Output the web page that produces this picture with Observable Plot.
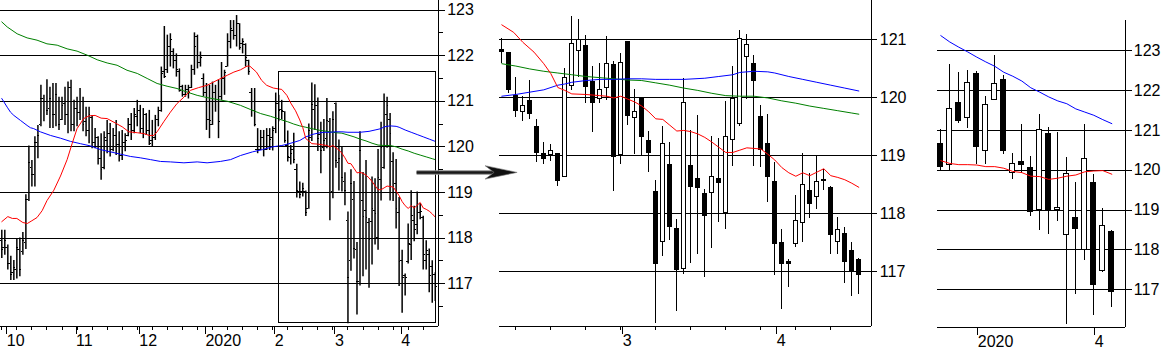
<!DOCTYPE html>
<html>
<head>
<meta charset="utf-8">
<script src="https://cdn.jsdelivr.net/npm/d3@7"></script>
<script src="https://cdn.jsdelivr.net/npm/@observablehq/plot@0.6"></script>
<style>
  html, body { margin: 0; padding: 0; background: #fff; }
  #chart { position: relative; width: 1176px; height: 362px; overflow: hidden; background: #fff; }
  #chart svg { position: absolute; left: 0; top: 0; }
</style>
</head>
<body>
<div id="chart"></div>
<script>
// ---------- daily OHLC, index 0 = 2019-09-30, one entry per weekday up to 2020-04-17 ----------
const dailyOpen = [
117.95,117.80,117.80,117.45,117.25,117.30,117.75,117.70,117.90,118.85,
119.55,119.40,120.10,120.50,121.05,121.00,120.85,121.00,120.70,121.00,
120.60,120.95,120.70,121.30,120.50,120.85,120.75,121.00,120.55,120.35,
120.65,120.10,120.20,119.75,119.55,120.15,120.30,119.95,120.25,120.05,
119.80,120.10,120.25,120.50,120.35,120.67,120.80,120.40,120.70,120.35,
120.14,120.20,120.60,120.80,121.65,121.69,122.20,122.10,121.90,121.65,
121.32,121.15,121.25,121.30,121.70,122.41,121.85,121.50,121.20,120.60,
120.48,121.20,121.00,121.10,121.50,121.77,122.30,122.55,122.45,122.70,
122.26,122.25,121.90,121.20,120.80,119.94,119.95,120.20,119.95,120.25,
120.20,120.40,120.95,
120.82,120.77,120.04,119.76,119.94,119.50,119.03,119.02,119.03,118.64,
120.20,120.81,120.90,120.27,119.98,120.18,120.56,119.01,120.96,119.66,
120.00,119.25,118.38,117.51,118.85,117.74,117.05,118.83,118.60,118.34,
118.37,118.61,118.01,119.28,119.55,120.70,120.59,119.68,119.20,118.55,
117.50,117.17,117.48,117.85,118.39,118.30,118.57,118.44,117.51,117.65,
117.37,117.21];
const dailyHigh = [
118.17,118.17,117.85,117.60,117.51,117.97,118.00,118.12,118.95,120.02,
119.70,120.22,120.47,121.35,121.13,121.47,121.31,121.39,121.39,121.09,
121.09,121.31,121.42,121.46,121.02,121.09,121.28,121.09,120.87,120.87,
120.69,120.40,120.22,120.29,120.33,120.58,120.51,120.40,120.58,120.33,
120.36,120.29,120.62,120.73,120.84,121.02,120.91,120.84,120.73,120.80,
120.58,120.69,120.87,121.75,122.64,122.45,122.48,122.15,122.04,121.71,
121.35,121.35,121.35,121.79,122.50,122.45,122.08,121.60,121.39,121.35,
121.42,121.35,121.46,121.85,121.68,122.48,122.77,122.77,122.88,122.70,
122.37,122.26,121.90,121.28,121.28,120.40,120.36,120.36,120.40,120.40,
120.44,121.18,121.13,
121.02,120.77,120.35,120.03,120.30,119.62,119.23,119.20,119.03,120.50,
121.40,121.36,121.07,120.54,120.60,121.06,120.62,120.77,120.96,120.15,
120.00,119.43,118.57,119.50,119.24,117.90,120.33,119.44,119.70,118.43,
119.34,119.30,119.94,120.54,121.16,121.09,120.73,119.87,119.72,118.89,
117.73,117.21,118.31,119.04,118.70,119.01,118.76,118.48,117.94,117.76,
117.50,117.24];
const dailyLow = [
117.55,117.62,117.30,117.07,117.07,117.10,117.15,117.62,117.75,118.80,
119.12,119.12,119.74,120.44,120.55,120.69,120.40,120.40,120.44,120.36,
120.58,120.47,120.29,120.33,120.33,120.44,120.58,120.33,120.22,120.07,
119.96,119.96,119.60,119.27,119.50,119.85,119.78,119.89,119.81,119.67,
119.70,119.89,120.22,120.14,120.29,120.44,120.29,120.18,120.25,120.03,
120.00,120.14,120.44,120.76,121.50,121.61,121.75,121.71,121.53,121.20,
121.09,121.09,121.05,121.28,121.57,121.71,121.75,121.10,120.36,120.18,
120.47,120.76,120.18,121.02,121.13,121.75,122.15,122.34,122.19,122.12,
122.04,121.75,121.57,120.65,120.44,119.85,119.92,119.78,119.92,119.92,
119.91,120.29,120.55,
120.59,120.08,119.67,119.60,119.63,118.88,118.86,118.90,118.47,118.63,
120.12,120.36,119.90,119.41,119.90,119.96,118.38,118.86,119.53,119.03,
119.01,118.71,116.12,117.27,117.54,116.31,116.95,117.15,117.30,116.90,
117.41,117.85,117.73,118.81,119.51,119.97,118.81,118.80,118.20,116.94,
116.35,116.73,117.43,117.51,117.92,118.07,118.40,117.30,117.30,116.80,
116.57,116.61];
const dailyClose = [
117.75,117.95,117.45,117.20,117.35,117.80,117.30,117.95,118.85,119.65,
119.40,120.10,120.25,121.05,121.00,120.80,121.05,120.70,121.15,120.50,
120.90,120.70,121.30,120.50,120.85,120.75,121.00,120.50,120.35,120.70,
120.10,120.20,119.75,119.50,120.20,120.30,119.95,120.25,120.05,119.80,
120.10,120.15,120.50,120.35,120.70,120.80,120.40,120.70,120.35,120.08,
120.20,120.60,120.80,121.60,121.55,122.20,122.35,121.90,121.70,121.23,
121.15,121.25,121.20,121.70,122.20,121.85,121.95,121.20,120.60,120.58,
121.20,121.00,120.55,121.50,121.64,122.30,122.60,122.45,122.70,122.17,
122.30,121.95,121.65,120.80,120.48,119.95,120.20,119.95,120.25,120.16,
120.35,120.95,120.80,
120.80,120.13,119.78,119.86,119.72,119.05,118.95,119.08,118.57,120.35,
120.93,121.00,120.19,119.91,120.14,120.58,118.99,120.60,119.69,119.75,
119.32,119.05,117.13,119.20,117.78,117.04,119.92,118.47,118.44,117.96,
118.64,118.53,119.32,119.99,121.02,120.91,120.29,119.11,118.64,117.49,
117.13,117.13,117.88,118.50,118.18,118.55,118.59,117.64,117.73,117.18,
117.00,116.94];

// moving averages on the daily index: [index, value]
const maRed = [[0,118.36],[2,118.47],[3.5,118.43],[5,118.43],[7,118.34],[8.5,118.32],[10,118.38],[11.7,118.45],[13.4,118.6],[15,118.82],[17.3,119.05],[19.5,119.36],[21.7,119.72],[23.4,120.08],[25,120.4],[27.2,120.62],[29,120.68],[31,120.69],[33,120.63],[35,120.62],[37.8,120.52],[40,120.44],[42.2,120.33],[45,120.31],[47.2,120.29],[49,120.25],[50.5,120.25],[51.6,120.33],[53.8,120.55],[56,120.76],[58.2,120.95],[60.5,121.09],[62.7,121.24],[65.4,121.3],[68.2,121.35],[71.5,121.46],[74.9,121.57],[77.1,121.64],[79.3,121.69],[81.5,121.77],[82.4,121.77],[84.6,121.64],[86.3,121.46],[88,121.35],[90.2,121.29],[92,121.27],
[93,121.26],[94.7,121.13],[96,120.96],[97.6,120.79],[99,120.59],[100,120.42],[101,120.18],[102,120.13],[103,120.07],[105,120.06],[107,120.04],[108,120.03],[109,120.0],[110,120.03],[111,119.98],[112,119.93],[113,119.86],[114,119.76],[115,119.64],[116,119.63],[117,119.53],[118,119.43],[119,119.44],[120,119.42],[121,119.38],[122,119.32],[123,119.24],[124,119.15],[125,119.06],[126,119.06],[127,119.1],[128,119.14],[129,119.13],[130,119.12],[131,119.03],[132,118.93],[133,118.8],[134,118.71],[135,118.65],[136,118.71],[137,118.66],[138,118.72],[139,118.78],[140,118.66],[141,118.63],[142,118.59],[143,118.53],[144,118.46]];
const maBlue = [[0,121.06],[1.8,120.87],[2.9,120.76],[4,120.69],[6.2,120.58],[8.4,120.47],[9.5,120.42],[10.6,120.4],[12.8,120.33],[16.2,120.25],[19.5,120.19],[22.8,120.12],[26.1,120.07],[29.5,120.02],[32.8,119.94],[36.1,119.89],[39.4,119.84],[42.7,119.79],[46,119.76],[49.4,119.72],[52.7,119.68],[56,119.67],[60.5,119.65],[64.9,119.67],[68.2,119.65],[72.6,119.68],[76,119.72],[79.3,119.81],[83.3,119.89],[86.6,119.94],[89.9,120.0],
[93,120.03],[95,120.06],[97,120.1],[99,120.14],[101,120.22],[102,120.24],[103,120.27],[105,120.3],[107,120.32],[109,120.32],[111,120.33],[113,120.33],[115,120.32],[117,120.32],[119,120.32],[122,120.34],[124,120.37],[126,120.4],[127,120.44],[129,120.46],[131,120.45],[132,120.43],[134,120.37],[136,120.32],[138,120.27],[140,120.22],[142,120.17],[144,120.12]];
const maGreen = [[0,122.74],[1.8,122.63],[5.1,122.48],[8.4,122.39],[11.7,122.34],[15,122.26],[18.4,122.23],[21.7,122.15],[25,122.1],[28.4,122.01],[31.7,121.91],[35,121.84],[38.3,121.79],[41.6,121.68],[45,121.61],[48.3,121.5],[51.6,121.39],[54.9,121.33],[58.2,121.28],[61.6,121.2],[64.9,121.13],[68.2,121.08],[71.5,121.04],[74.9,121.0],[79.3,120.91],[82.6,120.82],[86,120.73],[89.3,120.67],
[93,120.59],[95,120.55],[97,120.5],[99,120.46],[101,120.43],[103,120.4],[105,120.37],[107,120.35],[109,120.33],[111,120.31],[113,120.3],[115,120.26],[117,120.22],[119,120.17],[121,120.13],[123,120.08],[125,120.04],[127,120.03],[129,120.03],[131,120.0],[133,119.95],[135,119.91],[137,119.86],[139,119.82],[141,119.78],[143,119.74],[144,119.72]];

// ---------- weekly candles, index 0 = week of 2019-12-02 ----------
const weeklyOpen  = [120.67,120.14,121.69,121.32,122.41,120.48,121.77,122.26,119.94,120.20,120.05,119.00,120.90,119.00,118.38,118.81,118.00,119.69,117.48,118.44];
const weeklyHigh  = [121.02,122.66,122.46,122.50,122.48,121.85,122.88,122.37,120.41,121.15,120.35,121.39,121.07,120.95,120.33,119.70,121.15,119.88,119.04,118.49];
const weeklyLow   = [120.00,120.00,121.18,121.06,120.15,120.15,121.75,120.40,119.77,119.91,118.84,118.49,118.38,118.70,116.13,116.88,117.74,116.35,117.43,116.56];
const weeklyClose = [120.08,121.54,121.23,122.20,120.58,121.64,122.17,120.48,120.16,120.13,118.95,121.00,118.97,119.06,119.91,118.52,120.29,117.12,118.59,116.94];
const weeklyMaBlue = [123.38,123.22,123.09,122.97,122.84,122.72,122.61,122.46,122.36,122.24,122.07,121.96,121.84,121.74,121.67,121.54,121.46,121.38,121.27,121.17];
const weeklyMaRed  = [120.24,120.17,120.14,120.14,120.13,120.09,120.09,120.05,119.97,119.94,119.85,119.84,119.77,119.80,119.85,119.88,119.96,119.98,119.99,119.90];

// ---------- axis ticks and labels ----------
const priceTicksWide = [117,118,119,120,121,122,123];
const priceHalfTicks = [116.5,117.5,118.5,119.5,120.5,121.5,122.5];
const priceTicksZoom = [117,118,119,120,121];
const weekTickIdx = [0,5,10,15,20,25,30,35,40,45,50,55,60,65,70,75,80,85,90,95,100,105,110,115,120,125,130,135,140];
const monthTickIdx = [1,24,45,67,90,110,132];
const monthTickLabels = ["10","11","12","2020","2","3","4"];
const weeklyMonthTickIdx = [4,17];
const weeklyMonthTickLabels = ["2020","4"];

// ---------- annotations ----------
const zoomStartIdx = 93;
const zoomBox = [{x1: 92.2, x2: 144.2, y1: 116.13, y2: 121.65}];
const arrowSpan = [{from: 137.8, notch: 164.3, tip: 171.2, level: 119.44}];

// ---------- build rows ----------
const daily = dailyOpen.map((open, i) => ({i, open, high: dailyHigh[i], low: dailyLow[i], close: dailyClose[i]}));
const zoomDaily = daily.filter(d => d.i >= zoomStartIdx);
const weekly = weeklyOpen.map((open, w) => ({w, open, high: weeklyHigh[w], low: weeklyLow[w], close: weeklyClose[w], maBlue: weeklyMaBlue[w], maRed: weeklyMaRed[w]}));
const zoomMa = arr => arr.filter(d => d[0] >= zoomStartIdx);

const FONT = "'Liberation Sans', Arial, Helvetica, sans-serif";
const baseStyle = {background: "transparent", overflow: "visible", fontFamily: FONT, fontSize: "16px", color: "black"};
const monthLabel = new Map(monthTickIdx.map((d, k) => [d, monthTickLabels[k]]));
const weeklyMonthLabel = new Map(weeklyMonthTickIdx.map((d, k) => [d, weeklyMonthTickLabels[k]]));
const intFmt = d => String(d);
const crisp = {shapeRendering: "crispEdges"};

const dart = {
  draw(ctx) {
    ctx.moveTo(0, 0);
    ctx.lineTo(-32, -6.7);
    ctx.lineTo(-23, 0);
    ctx.lineTo(-32, 6.7);
    ctx.closePath();
  }
};

const maLines = (filter) => [
  Plot.line(filter(maGreen), {x: d => d[0], y: d => d[1], stroke: "#008000", strokeWidth: 1}),
  Plot.line(filter(maBlue), {x: d => d[0], y: d => d[1], stroke: "#0000ff", strokeWidth: 1}),
  Plot.line(filter(maRed), {x: d => d[0], y: d => d[1], stroke: "#ff0000", strokeWidth: 1})
];

// ---------- left: daily OHLC bars ----------
const leftX = [-0.432, 145.18], leftY = [116.06, 123.21];
const left = Plot.plot({
  width: 1176, height: 362,
  marginTop: 0, marginBottom: 36, marginLeft: 0, marginRight: 737.7,
  x: {type: "linear", domain: leftX, label: null},
  y: {type: "linear", domain: leftY, label: null},
  style: baseStyle,
  marks: [
    Plot.gridY(priceTicksWide, {stroke: "black", strokeOpacity: 1, ...crisp}),
    Plot.ruleY([leftY[0]], {stroke: "black", ...crisp}),
    Plot.ruleX([leftX[1]], {stroke: "black", ...crisp}),
    Plot.axisY(priceTicksWide, {anchor: "right", tickSize: 6, tickPadding: 2.4, fontSize: 16, tickFormat: intFmt, ...crisp}),
    Plot.axisY(priceHalfTicks, {anchor: "right", tickSize: 3.5, tickFormat: () => "", ...crisp}),
    Plot.axisX(weekTickIdx, {tickSize: 4, tickFormat: () => "", ...crisp}),
    Plot.axisX(monthTickIdx, {tickSize: 8, tickPadding: 0, tickFormat: d => monthLabel.get(d), textAnchor: "start", dx: 2, fontSize: 16, ...crisp}),
    Plot.ruleX(daily, {x: "i", y1: "low", y2: "high", stroke: "black", strokeWidth: 1.5}),
    Plot.ruleY(daily, {y: "open", x1: d => d.i - 0.62, x2: "i", stroke: "black", strokeWidth: 1, ...crisp}),
    Plot.ruleY(daily, {y: "close", x1: "i", x2: d => d.i + 0.62, stroke: "black", strokeWidth: 1, ...crisp}),
    ...maLines(a => a),
    Plot.rect(zoomBox, {x1: "x1", x2: "x2", y1: "y1", y2: "y2", fill: "none", stroke: "black", strokeWidth: 1, ...crisp}),
    Plot.link(arrowSpan, {x1: "from", x2: "notch", y1: "level", y2: "level", stroke: "#8a8a8a", strokeWidth: 4.5}),
    Plot.link(arrowSpan, {x1: "from", x2: "notch", y1: "level", y2: "level", stroke: "#1a1a1a", strokeWidth: 2.5}),
    Plot.dot(arrowSpan, {x: "tip", y: "level", symbol: dart, r: 6, fill: "#111", stroke: "#777", strokeWidth: 0.6})
  ]
});

// ---------- middle: daily candles of the boxed range ----------
const midX = [92.67, 145.77], midY = [116.06, 121.68];
const middle = Plot.plot({
  width: 1176, height: 362,
  marginTop: 0, marginBottom: 36, marginLeft: 499, marginRight: 305.3,
  x: {type: "linear", domain: midX, label: null},
  y: {type: "linear", domain: midY, label: null},
  style: baseStyle,
  marks: [
    Plot.gridY(priceTicksZoom, {stroke: "black", strokeOpacity: 1, ...crisp}),
    Plot.ruleY([midY[0]], {stroke: "black", ...crisp}),
    Plot.ruleX([midX[1]], {stroke: "black", ...crisp}),
    Plot.axisY(priceTicksZoom, {anchor: "right", tickSize: 5.6, tickPadding: 3, fontSize: 16, tickFormat: intFmt, ...crisp}),
    Plot.axisX(weekTickIdx.filter(d => d >= midX[0] && d <= midX[1]), {tickSize: 4, tickFormat: () => "", ...crisp}),
    Plot.axisX(monthTickIdx.filter(d => d >= midX[0] && d <= midX[1]), {tickSize: 8, tickPadding: 0, tickFormat: d => monthLabel.get(d), textAnchor: "start", dx: 2, fontSize: 16, ...crisp}),
    Plot.ruleX(zoomDaily, {x: "i", y1: "low", y2: "high", stroke: "black", strokeWidth: 1, ...crisp}),
    Plot.rect(zoomDaily, {x1: d => d.i - 0.3, x2: d => d.i + 0.3, y1: "open", y2: "close",
      fill: d => d.close > d.open ? "white" : "black", stroke: "black", strokeWidth: 1, ...crisp}),
    ...maLines(zoomMa)
  ]
});

// ---------- right: weekly candles ----------
const wkX = [-0.4, 20.52], wkY = [116.05, 123.76];
const right = Plot.plot({
  width: 1176, height: 362,
  marginTop: 20, marginBottom: 35, marginLeft: 936.7, marginRight: 51,
  x: {type: "linear", domain: wkX, label: null},
  y: {type: "linear", domain: wkY, label: null},
  style: baseStyle,
  marks: [
    Plot.gridY(priceTicksWide, {stroke: "black", strokeOpacity: 1, ...crisp}),
    Plot.ruleY([wkY[0]], {stroke: "black", ...crisp}),
    Plot.ruleX([wkX[1]], {stroke: "black", ...crisp}),
    Plot.axisY(priceTicksWide, {anchor: "right", tickSize: 6, tickPadding: 2.3, fontSize: 16, tickFormat: intFmt, ...crisp}),
    Plot.axisX(weeklyMonthTickIdx, {tickSize: 8, tickPadding: 0, tickFormat: d => weeklyMonthLabel.get(d), textAnchor: "start", dx: 1, fontSize: 16, ...crisp}),
    Plot.ruleX(weekly, {x: "w", y1: "low", y2: "high", stroke: "black", strokeWidth: 1, ...crisp}),
    Plot.rect(weekly, {x1: d => d.w - 0.28, x2: d => d.w + 0.28, y1: "open", y2: "close",
      fill: d => d.close > d.open ? "white" : "black", stroke: "black", strokeWidth: 1, ...crisp}),
    Plot.line(weekly, {x: "w", y: "maBlue", stroke: "#0000ff", strokeWidth: 1}),
    Plot.line(weekly, {x: "w", y: "maRed", stroke: "#ff0000", strokeWidth: 1})
  ]
});

const host = document.getElementById("chart");
host.append(left, middle, right);
</script>
</body>
</html>
